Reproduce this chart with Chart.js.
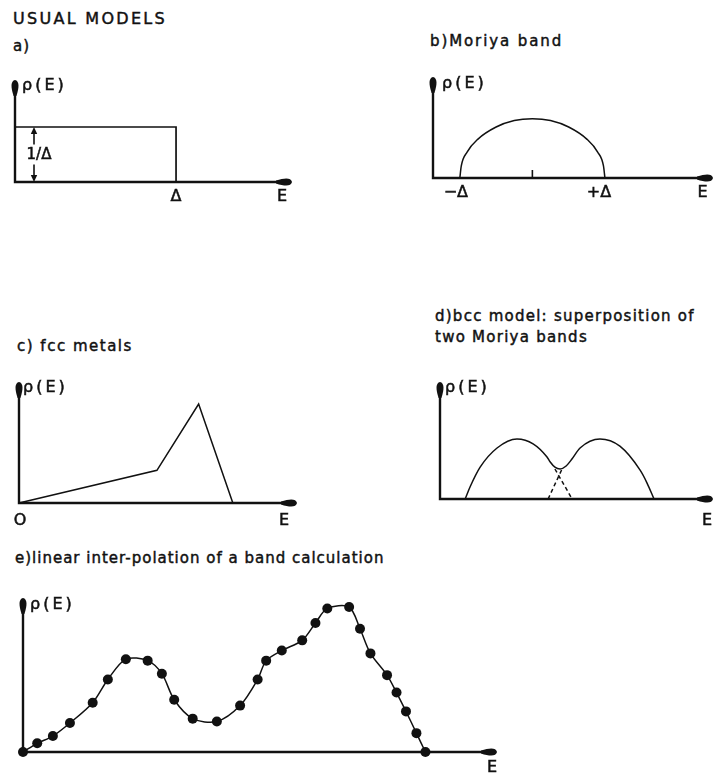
<!DOCTYPE html>
<html>
<head>
<meta charset="utf-8">
<script src="https://cdn.jsdelivr.net/npm/chart.js@4"></script>
<style>
  html, body { margin: 0; padding: 0; background: #fff; }
  #page { position: relative; width: 715px; height: 776px; overflow: hidden; color: #111;
          font-family: "DejaVu Sans", sans-serif; }
  #page canvas { position: absolute; }
  .t { position: absolute; white-space: nowrap; font-size: 15px; line-height: 16px;
       -webkit-text-stroke: 0.45px #111; }
</style>
</head>
<body>
<div id="page">
  <div class="t" style="left:13px; top:11px; font-size:16px; letter-spacing:2.3px;">USUAL MODELS</div>
  <div class="t" style="left:13px; top:38px; letter-spacing:1px;">a)</div>
  <div class="t" style="left:430px; top:33px; letter-spacing:1.9px;">b)Moriya band</div>
  <div class="t" style="left:17px; top:338px; letter-spacing:1.5px;">c) fcc metals</div>
  <div class="t" style="left:435px; top:306px; line-height:21px; letter-spacing:1.25px;">d)bcc model: superposition of<br>two Moriya bands</div>
  <div class="t" style="left:15px; top:550px; letter-spacing:1px;">e)linear inter-polation of a band calculation</div>

  <canvas id="chartA" width="310" height="150" style="left:0; top:60px;"></canvas>
  <canvas id="chartB" width="295" height="155" style="left:420px; top:55px;"></canvas>
  <canvas id="chartC" width="310" height="175" style="left:0; top:360px;"></canvas>
  <canvas id="chartD" width="295" height="175" style="left:420px; top:360px;"></canvas>
  <canvas id="chartE" width="510" height="196" style="left:0; top:580px;"></canvas>
</div>
<script>
// a) rectangular band of width Δ and height 1/Δ
const rectE   = [0, 0, 1, 1];
const rectRho = [0, 1, 1, 0];

// b) Moriya band, E in units of Δ
const moriyaE   = [-1, -0.98, -0.9, -0.75, -0.5, -0.25, 0, 0.25, 0.5, 0.75, 0.9, 0.98, 1];
const moriyaRho = [0, 0.13, 0.28, 0.42, 0.55, 0.62, 0.64, 0.62, 0.55, 0.42, 0.28, 0.13, 0];

// c) fcc metals, triangular model
const fccE   = [0, 0.645, 0.84, 1];
const fccRho = [0, 0.33, 1, 0];

// d) bcc: two overlapping Moriya bands (solid = envelope, dashed = hidden tails)
const bccE   = [0.92, 1.1, 1.47, 2.09, 2.82, 3.41, 3.92, 4.03, 4.21, 4.40, 4.62, 4.84, 5.13, 5.86, 6.59, 7.33, 7.58, 7.84];
const bccRho = [0, 0.2, 0.53, 0.85, 1, 0.92, 0.7, 0.62, 0.53, 0.5, 0.55, 0.67, 0.85, 1, 0.88, 0.48, 0.27, 0];
const tailLeftE    = [4.21, 4.84];
const tailLeftRho  = [0.5, 0];
const tailRightE   = [3.96, 4.47];
const tailRightRho = [0, 0.5];

// e) band calculation sampled at discrete energies
const calcE   = [0, 3.0, 6.3, 9.9, 14.7, 17.9, 21.7, 26.3, 29.3, 31.9, 35.8, 40.9, 45.8, 49.5,
                 51.3, 54.6, 58.9, 61.7, 64.2, 68.8, 71.1, 73.3, 76.8, 78.8, 80.8, 83.0, 84.9];
const calcRho = [0, 0.06, 0.11, 0.20, 0.34, 0.50, 0.64, 0.63, 0.54, 0.36, 0.23, 0.21, 0.32, 0.50,
                 0.63, 0.70, 0.77, 0.89, 0.99, 1.0, 0.85, 0.68, 0.53, 0.41, 0.28, 0.13, 0];

const INK = '#111';
const pts = (xs, ys) => xs.map((v, i) => ({ x: v, y: ys[i] }));

function drawArrow(ctx, x, y, angle) {
  ctx.save();
  ctx.translate(x, y);
  ctx.rotate(angle);
  ctx.beginPath();
  ctx.moveTo(0, 0);
  ctx.bezierCurveTo(-1, -4.4, -7, -4.4, -16, -1.4);
  ctx.lineTo(-16, 1.4);
  ctx.bezierCurveTo(-7, 4.4, -1, 4.4, 0, 0);
  ctx.fill();
  ctx.restore();
}

function drawHead(ctx, x, y, dir) {
  ctx.beginPath();
  ctx.moveTo(x, y);
  ctx.lineTo(x - 3.2, y + dir * 7);
  ctx.lineTo(x + 3.2, y + dir * 7);
  ctx.closePath();
  ctx.fill();
}

// hand-drawn style axes with arrow tips, plus tick marks, dimension arrows and labels
const sketch = {
  id: 'sketch',
  beforeDatasetsDraw(chart) {
    const { ctx, chartArea: a } = chart;
    ctx.save();
    ctx.strokeStyle = INK; ctx.fillStyle = INK; ctx.lineWidth = 2.4;
    ctx.beginPath();
    ctx.moveTo(a.left, a.top + 8);
    ctx.lineTo(a.left, a.bottom);
    ctx.lineTo(a.right - 8, a.bottom);
    ctx.stroke();
    drawArrow(ctx, a.right, a.bottom, 0);
    drawArrow(ctx, a.left, a.top, -Math.PI / 2);
    ctx.restore();
  },
  afterDatasetsDraw(chart, args, opts) {
    const { ctx, chartArea: a, scales: { x, y } } = chart;
    ctx.save();
    ctx.strokeStyle = INK; ctx.fillStyle = INK; ctx.lineWidth = 1.6;
    (opts.ticks || []).forEach(t => {
      const px = x.getPixelForValue(t);
      ctx.beginPath(); ctx.moveTo(px, a.bottom); ctx.lineTo(px, a.bottom - 8); ctx.stroke();
    });
    (opts.dims || []).forEach(d => {
      const px = x.getPixelForValue(d.x);
      const p0 = y.getPixelForValue(d.from), p1 = y.getPixelForValue(d.to);
      const mid = (p0 + p1) / 2;
      ctx.beginPath();
      ctx.moveTo(px, p1 + 6); ctx.lineTo(px, mid - d.gap);
      ctx.moveTo(px, mid + d.gap); ctx.lineTo(px, p0 - 6);
      ctx.stroke();
      drawHead(ctx, px, p1, 1);
      drawHead(ctx, px, p0, -1);
    });
    ctx.textBaseline = 'middle';
    ctx.lineWidth = 0.5;
    (opts.labels || []).forEach(l => {
      const px = l.x === 'end' ? a.right : (l.x === undefined ? a.left : x.getPixelForValue(l.x));
      const py = l.y === 'top' ? a.top : y.getPixelForValue(l.y || 0);
      ctx.font = (l.size || 16) + 'px "DejaVu Sans"';
      ctx.textAlign = l.align || 'center';
      ctx.letterSpacing = l.spacing || '0px';
      ctx.fillText(l.text, px + (l.dx || 0), py + (l.dy || 0));
      ctx.strokeText(l.text, px + (l.dx || 0), py + (l.dy || 0));
    });
    ctx.restore();
  }
};

function line(data, extra) {
  return Object.assign({
    data, showLine: true, borderColor: INK, borderWidth: 1.5,
    pointRadius: 0, tension: 0, clip: false
  }, extra);
}

function panel(id, pad, xr, yr, datasets, marks) {
  return new Chart(document.getElementById(id), {
    type: 'scatter',
    data: { datasets },
    options: {
      responsive: false, animation: false, events: [],
      layout: { padding: pad },
      scales: {
        x: { type: 'linear', display: false, min: xr[0], max: xr[1] },
        y: { type: 'linear', display: false, min: yr[0], max: yr[1] }
      },
      plugins: { legend: { display: false }, tooltip: { enabled: false }, sketch: marks }
    },
    plugins: [sketch]
  });
}

const rhoLabel = (dx, dy) => ({ text: 'ρ(E)', y: 'top', dx, dy, align: 'left', spacing: '3px' });

panel('chartA', { left: 15, top: 20, right: 18, bottom: 28 }, [0, 1.72], [0, 1.855],
  [line(pts(rectE, rectRho), { borderWidth: 1.7 })],
  {
    dims: [{ x: 0.118, from: 0, to: 1, gap: 10 }],
    labels: [
      rhoLabel(7, 6),
      { text: 'Δ', x: 1, dy: 15 },
      { text: 'E', x: 'end', dx: -10, dy: 15 },
      { text: '1/Δ', x: 0.118, y: 0.5, dx: 5, dy: 1, size: 15 }
    ]
  });

panel('chartB', { left: 13, top: 22, right: 2, bottom: 32 }, [-1.37, 2.49], [0, 1.09],
  [line(pts(moriyaE, moriyaRho), { cubicInterpolationMode: 'monotone' })],
  {
    ticks: [0],
    labels: [
      rhoLabel(9, 7),
      { text: '−Δ', x: -1, dx: -4, dy: 14.5 },
      { text: '+Δ', x: 1, dx: -6, dy: 14.5 },
      { text: 'E', x: 'end', dx: -10.5, dy: 14.5 }
    ]
  });

panel('chartC', { left: 19, top: 22, right: 13, bottom: 32 }, [0, 1.3], [0, 1.222],
  [line(pts(fccE, fccRho))],
  {
    labels: [
      rhoLabel(4, 6),
      { text: 'O', x: 0, dx: 1, dy: 18 },
      { text: 'E', x: 'end', dx: -13, dy: 18 }
    ]
  });

panel('chartD', { left: 20, top: 22, right: 2, bottom: 36 }, [0, 10], [0, 1.95],
  [
    line(pts(bccE, bccRho), { cubicInterpolationMode: 'monotone' }),
    line(pts(tailLeftE, tailLeftRho), { borderDash: [4, 3] }),
    line(pts(tailRightE, tailRightRho), { borderDash: [4, 3] })
  ],
  {
    labels: [
      rhoLabel(5, 6),
      { text: 'E', x: 'end', dx: -6, dy: 22 }
    ]
  });

panel('chartE', { left: 23, top: 18, right: 13, bottom: 24 }, [0, 100], [0, 1.062],
  [line(pts(calcE, calcRho), {
    tension: 0.3, pointRadius: 5, pointBackgroundColor: INK, pointBorderColor: INK, pointBorderWidth: 0
  })],
  {
    labels: [
      rhoLabel(7, 7),
      { text: 'E', x: 'end', dx: -5, dy: 16 }
    ]
  });
</script>
</body>
</html>
